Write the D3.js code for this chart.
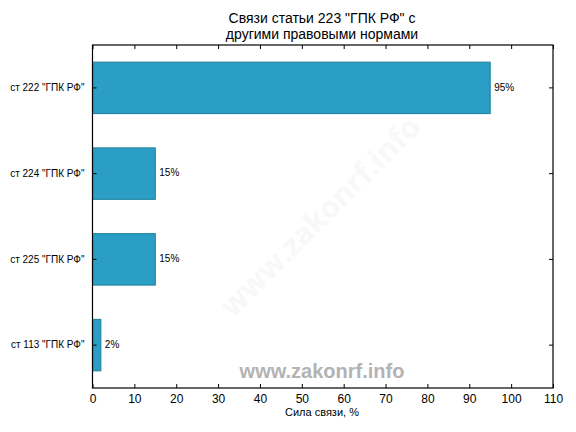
<!DOCTYPE html>
<html><head><meta charset="utf-8">
<script src="https://cdn.jsdelivr.net/npm/d3@7"></script>
<style>body{margin:0;background:#fff}svg{display:block}svg text{font-family:"Liberation Sans",Arial,sans-serif}</style>
</head><body><svg id="c" width="576" height="432"></svg>
<script>
const categories = ['ст 222 "ГПК РФ"', 'ст 224 "ГПК РФ"', 'ст 225 "ГПК РФ"', 'ст 113 "ГПК РФ"'];
const values = [95, 15, 15, 2];
const valueLabels = ['95%', '15%', '15%', '2%'];
const xTicks = [0,10,20,30,40,50,60,70,80,90,100,110];
const titleLines = ['Связи статьи 223 "ГПК РФ" с', 'другими правовыми нормами'];
const xLabel = 'Сила связи, %';

const svg = d3.select('#c');
const L = 92.5, R = 553, T = 45, B = 388;
const x = d3.scaleLinear().domain([0,110]).range([L,R]);
const y = d3.scaleBand().domain(categories).range([T,B]).paddingInner(0.4).paddingOuter(0.2);

// diagonal faint watermark
svg.append('text').attr('transform','translate(322,218) rotate(-45)')
  .attr('text-anchor','middle').attr('dominant-baseline','middle')
  .style('font-family','"Open Sans",sans-serif').style('font-weight','bold')
  .style('font-size','30px').style('fill','#f8f8f8').text('www.zakonrf.info');

// bars
svg.selectAll('rect.bar').data(values).enter().append('rect')
  .attr('x', x(0)).attr('y',(d,i)=>y(categories[i]))
  .attr('width', d=>x(d)-x(0)).attr('height', y.bandwidth())
  .attr('fill','#2a9ec4').attr('stroke','#1c7f9c').attr('stroke-width',1);

svg.selectAll('text.val').data(values).enter().append('text')
  .attr('x', d=>x(d)+4).attr('y',(d,i)=>y(categories[i])+y.bandwidth()/2)
  .attr('dominant-baseline','middle').style('font-size','10px').text((d,i)=>valueLabels[i]);

// axes
const ax = d3.axisBottom(x).tickValues(xTicks).tickSizeInner(-4).tickSizeOuter(0).tickPadding(6);
const gx = svg.append('g').attr('transform',`translate(0,${B})`).call(ax);
gx.attr('font-family',null);
gx.select('.domain').remove();
gx.selectAll('text').style('font-size','12px').attr('fill','#000');
const axT = d3.axisTop(x).tickValues(xTicks).tickSizeInner(-4).tickSizeOuter(0).tickFormat('');
const gt = svg.append('g').attr('transform',`translate(0,${T})`).call(axT);
gt.select('.domain').remove();

const ay = d3.axisLeft(y).tickSizeInner(-4).tickSizeOuter(0).tickPadding(8);
const gy = svg.append('g').attr('transform',`translate(${L},0)`).call(ay);
gy.attr('font-family',null);
gy.select('.domain').remove();
gy.selectAll('text').style('font-size','10px').attr('fill','#000');
const ayR = d3.axisRight(y).tickSizeInner(-4).tickSizeOuter(0).tickFormat('');
const gr = svg.append('g').attr('transform',`translate(${R},0)`).call(ayR);
gr.select('.domain').remove();

svg.append('rect').attr('x',L).attr('y',T).attr('width',R-L).attr('height',B-T)
  .attr('fill','none').attr('stroke','#000').attr('stroke-width',1.2);

// bottom watermark
svg.append('text').attr('x',322).attr('y',378).attr('text-anchor','middle')
  .style('font-weight','bold')
  .style('font-size','20px').style('fill','#b3b3b3').text('www.zakonrf.info');

// title
svg.selectAll('text.title').data(titleLines).enter().append('text')
  .attr('x',322).attr('y',(d,i)=>23+i*16).attr('text-anchor','middle')
  .style('font-size','14px').text(d=>d);

svg.append('text').attr('x',322).attr('y',416).attr('text-anchor','middle')
  .style('font-size','11px').text(xLabel);
</script></body></html>
